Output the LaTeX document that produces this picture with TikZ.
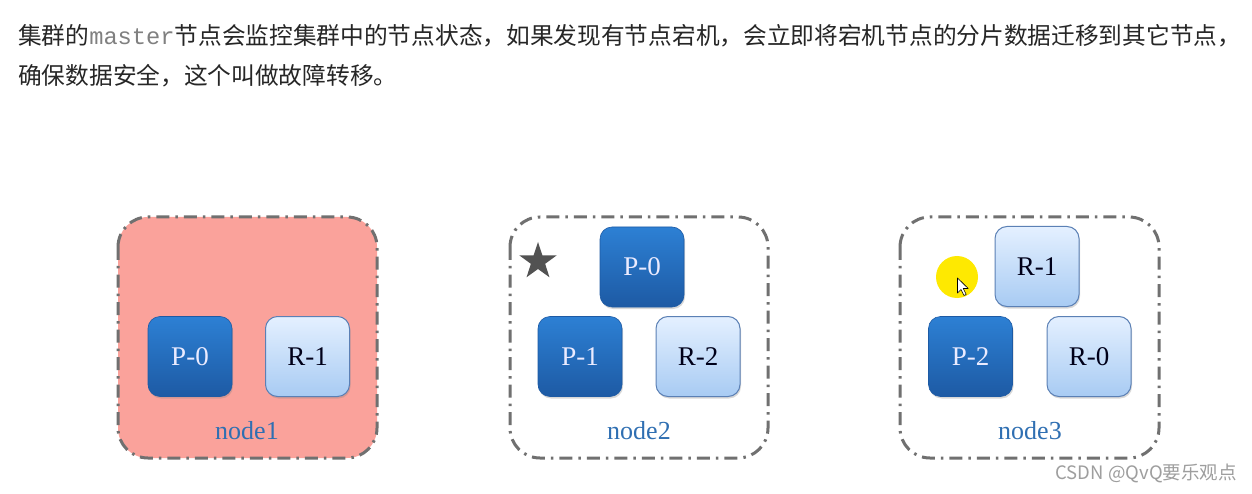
\documentclass[tikz,border=0pt]{standalone}
\usepackage{fontspec}
\setmainfont{Liberation Serif}
\newfontfamily\cjk{Noto Sans CJK SC}
\newfontfamily\mymono{Liberation Mono}
\usetikzlibrary{shapes.geometric,shadows}
\definecolor{salmon}{HTML}{FAA29B}
\definecolor{frame}{HTML}{707070}
\definecolor{dtop}{HTML}{2D80D4}
\definecolor{dbot}{HTML}{1D5AA4}
\definecolor{ltop}{HTML}{E4F0FF}
\definecolor{lbot}{HTML}{A8CBF3}
\definecolor{lborder}{HTML}{5B80B5}
\definecolor{lbl}{HTML}{2F6FB2}
\tikzset{
  nodebox/.style={draw=frame, line width=3pt, rounded corners=30pt,
    dash pattern=on 13pt off 6pt on 2.5pt off 6pt},
  shardbase/.style={rectangle, rounded corners=12pt, minimum width=84pt,
    minimum height=80pt, inner sep=0pt, font=\fontsize{27}{30}\selectfont,
    drop shadow={shadow xshift=1pt, shadow yshift=-2pt, opacity=0.3}},
  primary/.style={shardbase, top color=dtop, bottom color=dbot, draw=dbot,
    line width=0.6pt, text=white!92!blue},
  replica/.style={shardbase, top color=ltop, bottom color=lbot, draw=lborder,
    line width=1pt, text=black!90!blue},
  boxlabel/.style={anchor=base, text=lbl, font=\fontsize{26}{30}\selectfont},
  headline/.style={anchor=base west, inner sep=0pt, text=black!85,
    font=\cjk\fontsize{23.7}{28}\selectfont}
}
\begin{document}
\begin{tikzpicture}[x=1pt,y=-1pt]
\useasboundingbox[fill=white] (0,0) rectangle (1252,494);

% heading text
\node[headline] (line1) at (18,45) {集群的{\mymono\color{black!50}master}节点会监控集群中的节点状态，如果发现有节点宕机，会立即将宕机节点的分片数据迁移到其它节点，};
\node[headline] (line2) at (18,85) {确保数据安全，这个叫做故障转移。};

% node frames
\draw[nodebox, fill=salmon] (118,217) rectangle (377,458);
\draw[nodebox] (510,217) rectangle (768,458);
\draw[nodebox] (900,217) rectangle (1159,458);

% node1
\node[primary] (n1p0) at (190,356.5) {P-0};
\node[replica] (n1r1) at (307.5,356.5) {R-1};
\node[boxlabel] (n1lbl) at (247,439) {node1};

% node2
\node[star, star points=5, star point ratio=2.6, minimum size=39pt,
  inner sep=0pt, fill=black!68] (master) at (538,261.5) {};
\node[primary] (n2p0) at (642,267) {P-0};
\node[primary] (n2p1) at (580,356.5) {P-1};
\node[replica] (n2r2) at (698,356.5) {R-2};
\node[boxlabel] (n2lbl) at (639,439) {node2};

% node3
\node[circle, fill=yellow!92!orange, minimum size=42pt, inner sep=0pt] (hl) at (957,277) {};
\draw[fill=white, draw=black, line width=0.6pt, line join=round]
  (957.5,278) -- ++(0,15) -- ++(3.5,-3.5) -- ++(3,6) -- ++(2.2,-1) -- ++(-3,-6) -- ++(5,0) -- cycle;
\node[replica] (n3r1) at (1037,266.5) {R-1};
\node[primary] (n3p2) at (970.5,356.5) {P-2};
\node[replica] (n3r0) at (1089,356.5) {R-0};
\node[boxlabel] (n3lbl) at (1030,439) {node3};

% watermark
\node[anchor=east, inner sep=0pt, text=black!38, font=\cjk\fontsize{18.5}{20}\selectfont] (wm) at (1237,473) {CSDN @QvQ要乐观点};
\end{tikzpicture}
\end{document}
